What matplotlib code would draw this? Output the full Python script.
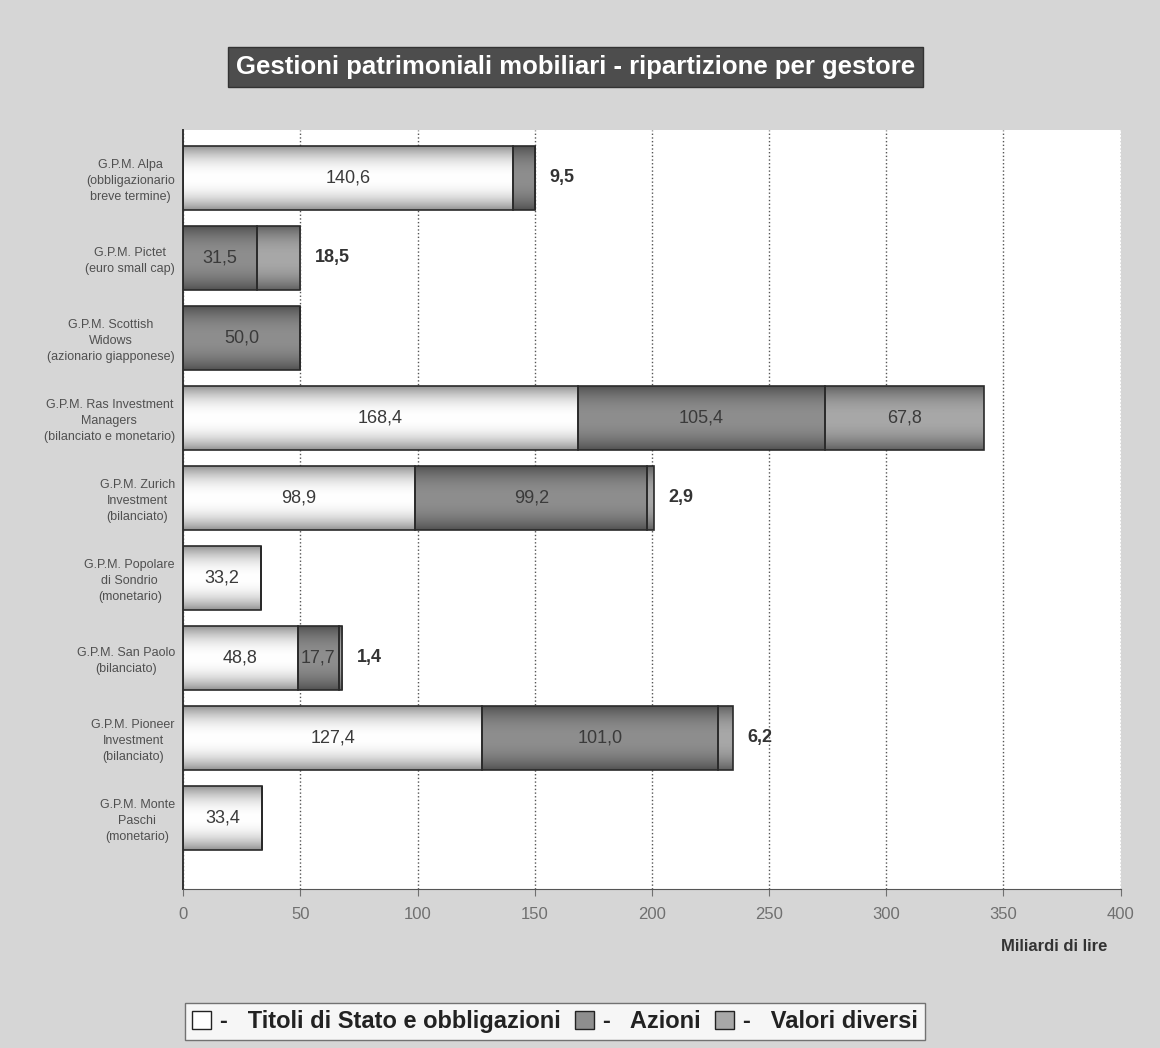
import numpy as np
from matplotlib import pyplot as plt
from matplotlib.patches import Patch

# Managers (top to bottom) and their three asset classes, billions of lire
managers = [
    "G.P.M. Alpa\n(obbligazionario\nbreve termine)",
    "G.P.M. Pictet\n(euro small cap)",
    "G.P.M. Scottish\nWidows\n(azionario giapponese)",
    "G.P.M. Ras Investment\nManagers\n(bilanciato e monetario)",
    "G.P.M. Zurich\nInvestment\n(bilanciato)",
    "G.P.M. Popolare\ndi Sondrio\n(monetario)",
    "G.P.M. San Paolo\n(bilanciato)",
    "G.P.M. Pioneer\nInvestment\n(bilanciato)",
    "G.P.M. Monte\nPaschi\n(monetario)",
]
titoli = [140.6, 0, 0, 168.4, 98.9, 33.2, 48.8, 127.4, 33.4]
azioni = [9.5, 31.5, 50.0, 105.4, 99.2, 0, 17.7, 101.0, 0]
valori = [0, 18.5, 0, 67.8, 2.9, 0, 1.4, 6.2, 0]

series_names = ["Titoli di Stato e obbligazioni", "Azioni", "Valori diversi"]
series_colors = ["#ffffff", "#8e8e8e", "#a8a8a8"]
x_ticks = [0, 50, 100, 150, 200, 250, 300, 350, 400]

plt.rcParams["font.family"] = ["Liberation Sans", "DejaVu Sans"]

fig = plt.figure(figsize=(11.6, 10.48), dpi=100)
fig.patch.set_facecolor("#d6d6d6")
ax = fig.add_axes([0.158, 0.152, 0.808, 0.724])
ax.set_facecolor("#ffffff")


def shade(patch, base):
    # vertical gradient: darker at top and bottom edge, light in the middle
    w, h = patch.get_width(), patch.get_height()
    if w <= 0:
        return
    x0, y0 = patch.get_x(), patch.get_y()
    t = np.linspace(-1, 1, 80)
    rgb = np.array(plt.matplotlib.colors.to_rgb(base))
    fac = 1 - 0.42 * np.abs(t) ** 2.2
    img = (rgb[None, :] * fac[:, None])[:, None, :]
    ax.imshow(img, extent=[x0, x0 + w, y0, y0 + h], aspect="auto",
              zorder=2, interpolation="bilinear")
    patch.set_facecolor("none")


y = np.arange(len(managers))
left = np.zeros(len(managers))
all_bars = []
for vals, color in zip([titoli, azioni, valori], series_colors):
    bars = ax.barh(y, vals, left=left, height=0.8, color=color,
                   edgecolor="#2a2a2a", linewidth=1.2, zorder=3)
    for b in bars:
        shade(b, color)
    all_bars.append((bars, vals, left.copy()))
    left = left + np.array(vals)

# value labels: inside centered, small last segment outside at right
for i in range(len(managers)):
    segs = [(vals[i], lft[i]) for bars, vals, lft in all_bars if vals[i] > 0]
    for j, (v, lft) in enumerate(segs):
        txt = f"{v:.1f}".replace(".", ",")
        last = j == len(segs) - 1
        if last and v < 20 and len(segs) > 1:
            ax.text(lft + v + 6, i, txt, va="center", ha="left", fontsize=13,
                    fontweight="bold", color="#333333", zorder=5)
        else:
            ax.text(lft + v / 2, i, txt, va="center", ha="center", fontsize=13,
                    color="#3a3a3a", zorder=5)

ax.set_xlim(0, 400)
ax.set_ylim(len(managers) - 0.11, -0.6)
ax.set_xticks(x_ticks)
ax.set_xticklabels([str(v) for v in x_ticks], fontsize=12, color="#707070")
ax.set_yticks(y)
ax.set_yticklabels(managers, fontsize=9, color="#505050", multialignment="center",
                   linespacing=1.45)
ax.tick_params(axis="y", length=0, pad=6)
ax.tick_params(axis="x", length=5, color="#707070", pad=8)
ax.grid(axis="x", linestyle=":", color="#555555", linewidth=1.0, zorder=1)
ax.set_axisbelow(True)
for side in ["top", "right"]:
    ax.spines[side].set_visible(False)
ax.spines["left"].set_color("#333333")
ax.spines["left"].set_linewidth(1.4)
ax.spines["bottom"].set_color("#555555")

fig.text(0.955, 0.097, "Miliardi di lire", ha="right", va="center",
         fontsize=12, fontweight="bold", color="#333333")

fig.text(0.496, 0.936, "Gestioni patrimoniali mobiliari - ripartizione per gestore",
         ha="center", va="center", fontsize=18.5, fontweight="bold", color="#ffffff",
         bbox=dict(boxstyle="square,pad=0.3", facecolor="#4d4d4d", edgecolor="#333333"))

handles = [Patch(facecolor=c, edgecolor="#222222", label="-   " + n)
           for c, n in zip(series_colors, series_names)]
leg = fig.legend(handles=handles, loc="center left", bbox_to_anchor=(0.149, 0.025),
                 ncol=3, frameon=True, fontsize=17, handlelength=0.8, handleheight=0.8,
                 handletextpad=0.4, columnspacing=0.6, borderpad=0.3, fancybox=False)
leg.get_frame().set_edgecolor("#555555")
leg.get_frame().set_facecolor("#ffffff")
for t in leg.get_texts():
    t.set_color("#222222")
    t.set_fontweight("bold")

fig.savefig("out.png", dpi=100, facecolor=fig.get_facecolor())
